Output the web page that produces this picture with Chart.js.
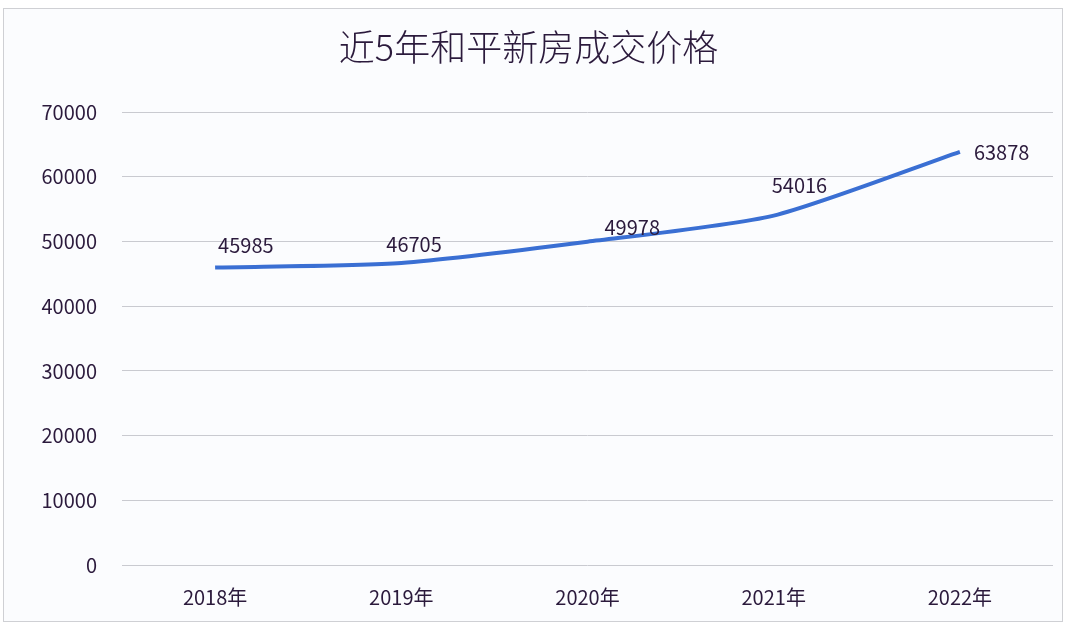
<!DOCTYPE html>
<html>
<head>
<meta charset="utf-8">
<script src="https://cdn.jsdelivr.net/npm/chart.js@4"></script>
<style>
  html, body { margin: 0; padding: 0; background: #ffffff; }
  #frame {
    position: absolute; left: 3px; top: 8px;
    width: 1058px; height: 612px;
    border: 1px solid #cfd0d4;
    background: #fbfcfe;
  }
  canvas { display: block; }
</style>
</head>
<body>
<div id="frame"><canvas id="chart" width="1058" height="612"></canvas></div>
<script>
const years = ['2018年', '2019年', '2020年', '2021年', '2022年'];
const prices = [45985, 46705, 49978, 54016, 63878];
const yTicks = [0, 10000, 20000, 30000, 40000, 50000, 60000, 70000];

const textColor = '#2b1a3c';
const fontFamily = '"Noto Sans CJK SC", "Noto Sans", sans-serif';

// where each value label sits relative to its point (dx, dy)
const labelOffsets = [[3, -22], [-15, -18], [17, -14], [-2, -30], [14, 1]];

const valueLabels = {
  id: 'valueLabels',
  afterDatasetsDraw(chart) {
    const ctx = chart.ctx;
    const meta = chart.getDatasetMeta(0);
    ctx.save();
    ctx.font = '20px ' + fontFamily;
    ctx.fillStyle = textColor;
    ctx.textAlign = 'left';
    ctx.textBaseline = 'middle';
    meta.data.forEach((pt, i) => {
      const off = labelOffsets[i] || [4, -20];
      ctx.fillText(String(prices[i]), pt.x + off[0], pt.y + off[1]);
    });
    ctx.restore();
  }
};

const ctx = document.getElementById('chart').getContext('2d');
new Chart(ctx, {
  type: 'line',
  data: {
    labels: years,
    datasets: [{
      data: prices,
      borderColor: '#3a6fd3',
      borderWidth: 4,
      pointRadius: 0,
      tension: 0.22,
      fill: false
    }]
  },
  options: {
    responsive: false,
    animation: false,
    layout: { padding: { left: 0, right: 9, top: 0, bottom: 0 } },
    plugins: {
      legend: { display: false },
      tooltip: { enabled: false },
      title: {
        display: true,
        text: '近5年和平新房成交价格',
        color: textColor,
        font: { family: fontFamily, size: 36, weight: 300, lineHeight: 1.2 },
        padding: { top: 17, bottom: 43 }
      }
    },
    scales: {
      x: {
        offset: true,
        grid: { display: false, drawTicks: false },
        border: { display: false },
        ticks: {
          color: textColor,
          font: { family: fontFamily, size: 20 },
          padding: 20
        },
        afterFit(scale) { scale.height = 56; }
      },
      y: {
        min: 0,
        max: 70000,
        afterBuildTicks(scale) { scale.ticks = yTicks.map(v => ({ value: v })); },
        grid: { color: '#c9cad0', lineWidth: 1, drawTicks: false },
        border: { display: false },
        ticks: {
          color: textColor,
          font: { family: fontFamily, size: 20 },
          padding: 25,
          callback: v => String(v)
        },
        afterFit(scale) { scale.width = 118; }
      }
    }
  },
  plugins: [valueLabels]
});
</script>
</body>
</html>
